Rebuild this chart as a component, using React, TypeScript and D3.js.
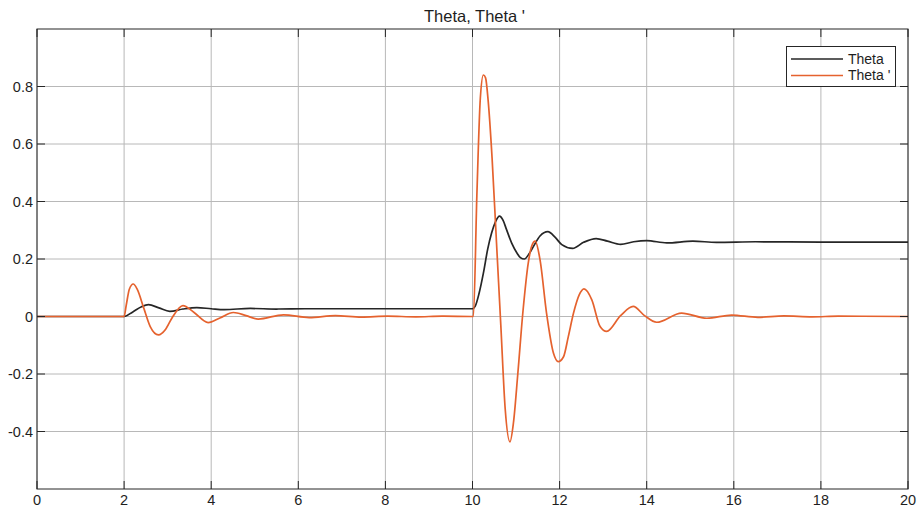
import React from 'react'
import * as d3 from 'd3'

const title = "Theta, Theta '"
const xTicks = [0, 2, 4, 6, 8, 10, 12, 14, 16, 18, 20]
const yTicks = [-0.4, -0.2, 0, 0.2, 0.4, 0.6, 0.8]
const seriesNames = ['Theta', "Theta '"]

// [time, value]
const thetaPoints: [number, number][] = [
  [0, 0], [2, 0], [2.2, 0.016], [2.4, 0.034], [2.56, 0.041], [2.8, 0.03], [3.05, 0.018],
  [3.35, 0.026], [3.67, 0.031], [4.0, 0.027], [4.3, 0.024], [4.9, 0.028], [5.5, 0.026],
  [6.2, 0.027], [7, 0.027], [8, 0.027], [9, 0.027], [10, 0.027], [10.06, 0.035],
  [10.15, 0.08], [10.25, 0.151], [10.35, 0.235], [10.44, 0.291], [10.53, 0.33],
  [10.62, 0.349], [10.7, 0.335], [10.78, 0.303], [10.9, 0.255], [11.02, 0.221],
  [11.1, 0.205], [11.19, 0.2], [11.3, 0.218], [11.4, 0.244], [11.55, 0.28], [11.73, 0.295],
  [11.9, 0.275], [12.05, 0.25], [12.3, 0.237], [12.55, 0.258], [12.84, 0.271], [13.1, 0.262],
  [13.4, 0.251], [13.7, 0.26], [14.0, 0.264], [14.46, 0.256], [15.06, 0.262], [15.6, 0.258],
  [16.5, 0.26], [18, 0.259], [20, 0.259]
]

const thetaDotPoints: [number, number][] = [
  [0, 0], [2, 0], [2.05, 0.04], [2.12, 0.095], [2.21, 0.113], [2.3, 0.095], [2.45, 0.03],
  [2.6, -0.035], [2.79, -0.064], [2.95, -0.045], [3.1, -0.005], [3.35, 0.038], [3.6, 0.015],
  [3.93, -0.021], [4.2, -0.005], [4.51, 0.014], [4.8, 0.003], [5.08, -0.009], [5.66, 0.006],
  [6.25, -0.004], [6.85, 0.003], [7.45, -0.002], [8.05, 0.001], [8.7, -0.001], [9.3, 0.001],
  [10, 0], [10.02, 0], [10.1, 0.42], [10.18, 0.76], [10.25, 0.84], [10.3, 0.83], [10.36, 0.75],
  [10.45, 0.55], [10.55, 0.26], [10.65, -0.03], [10.75, -0.32], [10.86, -0.436], [10.94, -0.37],
  [11.04, -0.2], [11.16, 0.02], [11.28, 0.186], [11.36, 0.245], [11.44, 0.262], [11.55, 0.198],
  [11.7, 0.012], [11.86, -0.128], [11.97, -0.157], [12.09, -0.14], [12.2, -0.07], [12.32, 0.012],
  [12.45, 0.075], [12.56, 0.096], [12.74, 0.058], [12.93, -0.035], [13.08, -0.052], [13.4, 0.003],
  [13.69, 0.035], [13.95, 0.003], [14.23, -0.02], [14.8, 0.012], [15.38, -0.006], [15.95, 0.005],
  [16.55, -0.003], [17.15, 0.002], [17.8, -0.001], [18.4, 0.001], [20, 0]
]

const colors = ['#262626', '#e5622e']

export default function App() {
  const width = 920
  const height = 513
  const plot = { left: 37, right: 908, top: 29, bottom: 489 }
  const font = '"Liberation Sans", Arial, sans-serif'

  const x = d3.scaleLinear().domain([0, 20]).range([plot.left, plot.right])
  const y = d3.scaleLinear().domain([-0.6, 1.0]).range([plot.bottom, plot.top])
  const line = d3.line<[number, number]>()
    .x(d => x(d[0]))
    .y(d => y(d[1]))
    .curve(d3.curveMonotoneX)

  const tickLen = 8
  const legend = { x: 786.5, y: 46.5, w: 109, h: 40 }

  return (
    <div style={{ position: 'absolute', left: 0, top: 0 }}>
      <svg width={width} height={height} viewBox={`0 0 ${width} ${height}`} style={{ display: 'block', background: '#fff' }}>
        <defs>
          <clipPath id="plotClip">
            <rect x={plot.left} y={plot.top} width={plot.right - plot.left} height={plot.bottom - plot.top} />
          </clipPath>
        </defs>
        <text x={(plot.left + plot.right) / 2 + 2} y={22} textAnchor="middle" fontFamily={font} fontSize={16.5} fill="#1e1e1e">{title}</text>

        {/* grid */}
        {xTicks.map((t, i) => (
          <line key={`gx_${i}`} x1={x(t)} x2={x(t)} y1={plot.top} y2={plot.bottom} stroke="#b8b8b8" strokeWidth={1} />
        ))}
        {yTicks.map((t, i) => (
          <line key={`gy_${i}`} x1={plot.left} x2={plot.right} y1={y(t)} y2={y(t)} stroke="#b8b8b8" strokeWidth={1} />
        ))}

        <g clipPath="url(#plotClip)">
          <path d={line(thetaPoints) || ''} fill="none" stroke={colors[0]} strokeWidth={1.7} />
          <path d={line(thetaDotPoints) || ''} fill="none" stroke={colors[1]} strokeWidth={1.7} />
        </g>

        {/* axes box and ticks */}
        <rect x={plot.left} y={plot.top} width={plot.right - plot.left} height={plot.bottom - plot.top} fill="none" stroke="#262626" strokeWidth={1} />
        {xTicks.map((t, i) => (
          <g key={`tx_${i}`}>
            <line x1={x(t)} x2={x(t)} y1={plot.bottom} y2={plot.bottom - tickLen} stroke="#262626" />
            <line x1={x(t)} x2={x(t)} y1={plot.top} y2={plot.top + tickLen} stroke="#262626" />
            <text x={x(t)} y={505} textAnchor="middle" fontFamily={font} fontSize={14.5} fill="#1e1e1e">{t}</text>
          </g>
        ))}
        {yTicks.map((t, i) => (
          <g key={`ty_${i}`}>
            <line x1={plot.left} x2={plot.left + tickLen} y1={y(t)} y2={y(t)} stroke="#262626" />
            <line x1={plot.right} x2={plot.right - tickLen} y1={y(t)} y2={y(t)} stroke="#262626" />
            <text x={plot.left - 4} y={y(t)} dy="0.35em" textAnchor="end" fontFamily={font} fontSize={14.5} fill="#1e1e1e">{t}</text>
          </g>
        ))}

        {/* legend */}
        <rect x={legend.x} y={legend.y} width={legend.w} height={legend.h} fill="#fff" stroke="#262626" strokeWidth={1} />
        {seriesNames.map((name, i) => (
          <g key={`lg_${i}`}>
            <line x1={791} x2={843} y1={59 + i * 16.5} y2={59 + i * 16.5} stroke={colors[i]} strokeWidth={1.7} />
            <text x={848} y={59 + i * 16.5} dy="0.35em" fontFamily={font} fontSize={14} fill="#1e1e1e">{name}</text>
          </g>
        ))}
      </svg>
    </div>
  )
}
